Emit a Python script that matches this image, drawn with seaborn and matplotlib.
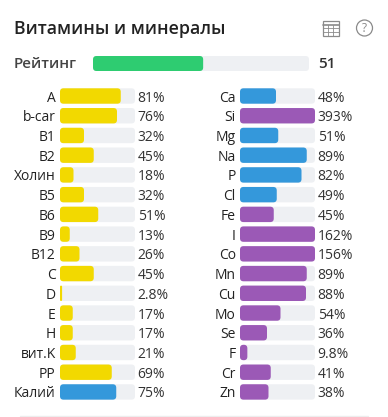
import matplotlib
matplotlib.use("Agg")
import matplotlib.pyplot as plt
from matplotlib.patches import FancyBboxPatch, Rectangle, Circle
import seaborn as sns

sns.set_theme(style="white")
plt.rcParams['font.family'] = ['Open Sans', 'DejaVu Sans']

TITLE = "Витамины и минералы"
RATING_LABEL = "Рейтинг"
RATING = 51

left_names = ["A", "b-car", "B1", "B2", "Холин", "B5", "B6", "B9", "B12", "C", "D", "E", "H", "вит.K", "PP", "Калий"]
left_values = [81, 76, 32, 45, 18, 32, 51, 13, 26, 45, 2.8, 17, 17, 21, 69, 75]
left_labels = ["81%", "76%", "32%", "45%", "18%", "32%", "51%", "13%", "26%", "45%", "2.8%", "17%", "17%", "21%", "69%", "75%"]
left_colors = ["#F2D900"] * 15 + ["#3498DB"]

right_names = ["Ca", "Si", "Mg", "Na", "P", "Cl", "Fe", "I", "Co", "Mn", "Cu", "Mo", "Se", "F", "Cr", "Zn"]
right_values = [48, 393, 51, 89, 82, 49, 45, 162, 156, 89, 88, 54, 36, 9.8, 41, 38]
right_labels = ["48%", "393%", "51%", "89%", "82%", "49%", "45%", "162%", "156%", "89%", "88%", "54%", "36%", "9.8%", "41%", "38%"]
right_colors = ["#3498DB", "#9B59B6", "#3498DB", "#3498DB", "#3498DB", "#3498DB", "#9B59B6", "#9B59B6",
                "#9B59B6", "#9B59B6", "#9B59B6", "#9B59B6", "#9B59B6", "#9B59B6", "#9B59B6", "#9B59B6"]

TRACK = "#EEF0F3"
W, H = 388, 417
fig = plt.figure(figsize=(W / 100, H / 100), dpi=100, facecolor="#F2F2F2")


def axes_px(x0, y0, x1, y1):
    return fig.add_axes([x0 / W, 1 - y1 / H, (x1 - x0) / W, (y1 - y0) / H])


def round_bars(ax, radius_px, px_w, px_h):
    """Replace the bars seaborn drew with rounded ones of the same size."""
    x0, x1 = ax.get_xlim()
    y0, y1 = ax.get_ylim()
    ux = abs(x1 - x0) / px_w
    uy = abs(y1 - y0) / px_h
    for bar in list(ax.patches):
        x, y, w, h = bar.get_x(), bar.get_y(), bar.get_width(), bar.get_height()
        color = bar.get_facecolor()
        z = bar.get_zorder()
        bar.remove()
        size = min(radius_px * ux, w / 2)
        ax.add_patch(FancyBboxPatch((x, y), w, h,
                                    boxstyle=f"round,pad=0,rounding_size={size}",
                                    mutation_aspect=uy / ux, fc=color, ec="none",
                                    zorder=z, clip_on=False))


def panel(x0, names, values, labels, colors):
    step = 19.73
    px_h = step * 16
    ax = axes_px(x0, 96 - step / 2, x0 + 75, 96 - step / 2 + px_h)
    shown = [min(v, 100) for v in values]
    sns.barplot(x=[100] * len(names), y=names, color=TRACK, saturation=1, width=0.78, ax=ax, orient="h")
    sns.barplot(x=shown, y=names, hue=names, palette=colors, saturation=1, width=0.78,
                legend=False, dodge=False, ax=ax, orient="h")
    ax.set_xlim(0, 100)
    ax.set_ylim(15.5, -0.5)
    round_bars(ax, 3.5, 75, px_h)
    ax.set_xticks([])
    ax.set_xlabel("")
    ax.set_ylabel("")
    ax.tick_params(axis="y", length=0, pad=3, labelsize=10, labelcolor="#222222")
    sns.despine(ax=ax, left=True, bottom=True, top=True, right=True)
    ax.patch.set_alpha(0)
    for i, lab in enumerate(labels):
        ax.text(103.5, i, lab, ha="left", va="center_baseline", fontsize=10, color="#333333")


panel(60, left_names, left_values, left_labels, left_colors)
panel(240, right_names, right_values, right_labels, right_colors)

# rating bar
ax = axes_px(93, 56, 309, 71)
sns.barplot(x=[100], y=[RATING_LABEL], color=TRACK, saturation=1, width=1, ax=ax, orient="h")
sns.barplot(x=[RATING], y=[RATING_LABEL], color="#2ECC71", saturation=1, width=1, ax=ax, orient="h")
ax.set_xlim(0, 100)
ax.set_ylim(0.5, -0.5)
round_bars(ax, 3.5, 216, 15)
ax.set_xticks([])
ax.set_yticks([])
ax.set_xlabel("")
ax.set_ylabel("")
sns.despine(ax=ax, left=True, bottom=True, top=True, right=True)
ax.patch.set_alpha(0)

# overlay for card text and icons, in pixel coordinates
ov = fig.add_axes([0, 0, 1, 1], zorder=-1)
ov.set_xlim(0, W)
ov.set_ylim(H, 0)
ov.axis("off")
ov.text(14, 28.5, TITLE, fontsize=12.75, fontweight="semibold", color="#222222", ha="left", va="center")
ov.text(14, 63.5, RATING_LABEL, fontsize=10.9, fontweight="semibold", color="#444444", ha="left", va="center")
ov.text(318, 63.5, str(RATING), fontsize=11, fontweight="semibold", color="#333333", ha="left", va="center")

# card shape and bottom rule
ov.add_patch(FancyBboxPatch((-20, 0), W + 40, H + 40, boxstyle="round,pad=0,rounding_size=20",
                            fc="white", ec="none"))
ov.plot([20, 368], [416, 416], color="#EDEDED", lw=1)

# table icon
ic = "#8A8A8A"
ov.add_patch(Rectangle((322.5, 20.5), 16, 15, fc="none", ec=ic, lw=0.9))
ov.plot([322.5, 338.5], [24.5, 24.5], color=ic, lw=1.2)
for y in (28.2, 31.8):
    ov.plot([322.5, 338.5], [y, y], color=ic, lw=0.6)
for x in (327.8, 333.2):
    ov.plot([x, x], [24.5, 35.5], color=ic, lw=0.6)

# help icon
ov.add_patch(Circle((364.5, 28), 8, fc="none", ec=ic, lw=0.9))
ov.text(364.5, 28, "?", fontsize=8.5, color=ic, ha="center", va="center")

fig.savefig("out.png", dpi=100, facecolor=fig.get_facecolor())
